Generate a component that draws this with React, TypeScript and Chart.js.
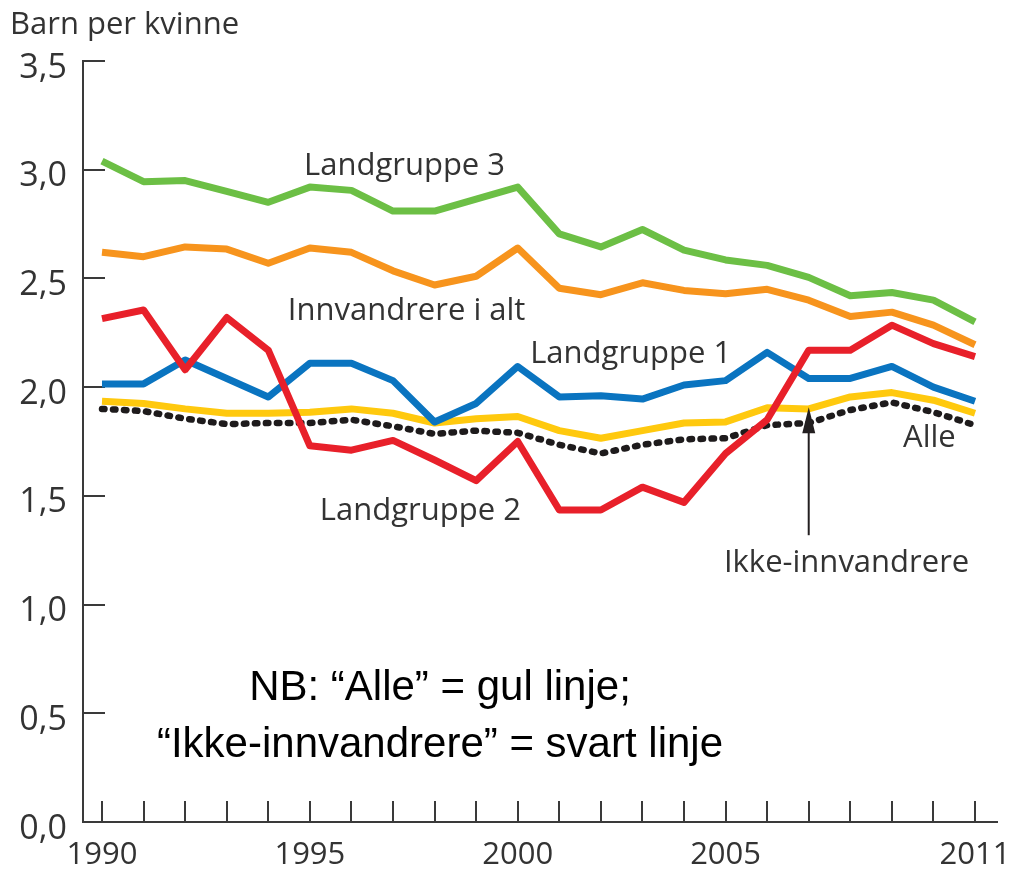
import React, { useEffect, useRef } from "react";
import { Chart, registerables } from "chart.js";

Chart.register(...registerables);

// ---- Data ----
const years = [
  1990, 1991, 1992, 1993, 1994, 1995, 1996, 1997, 1998, 1999, 2000,
  2001, 2002, 2003, 2004, 2005, 2006, 2007, 2008, 2009, 2010, 2011,
];
const xLabelYears = [1990, 1995, 2000, 2005, 2011];
const yTicks = [0, 0.5, 1, 1.5, 2, 2.5, 3, 3.5];

const landgruppe3 = [3.04, 2.945, 2.95, 2.9, 2.85, 2.92, 2.905, 2.81, 2.81, 2.865, 2.92, 2.705, 2.645, 2.725, 2.63, 2.585, 2.56, 2.505, 2.42, 2.435, 2.4, 2.3];
const innvandrereIAlt = [2.62, 2.6, 2.645, 2.635, 2.57, 2.64, 2.62, 2.535, 2.47, 2.51, 2.64, 2.455, 2.425, 2.48, 2.445, 2.43, 2.45, 2.4, 2.325, 2.345, 2.285, 2.195];
const landgruppe2 = [2.315, 2.355, 2.08, 2.32, 2.17, 1.73, 1.71, 1.755, 1.665, 1.57, 1.75, 1.435, 1.435, 1.54, 1.47, 1.695, 1.85, 2.17, 2.17, 2.285, 2.2, 2.14];
const landgruppe1 = [2.015, 2.015, 2.125, 2.04, 1.955, 2.11, 2.11, 2.03, 1.84, 1.925, 2.095, 1.955, 1.96, 1.945, 2.01, 2.03, 2.16, 2.04, 2.04, 2.095, 2.0, 1.935];
const alle = [1.935, 1.925, 1.9, 1.88, 1.88, 1.885, 1.9, 1.88, 1.835, 1.855, 1.865, 1.8, 1.765, 1.8, 1.835, 1.84, 1.905, 1.9, 1.955, 1.975, 1.94, 1.88];
const ikkeInnvandrere = [1.9, 1.89, 1.855, 1.83, 1.835, 1.835, 1.85, 1.82, 1.785, 1.8, 1.79, 1.735, 1.695, 1.735, 1.76, 1.765, 1.825, 1.835, 1.895, 1.93, 1.885, 1.825];

// Annotation anchors in data coordinates (year, value): left/baseline of text
const seriesLabels = [
  { text: "Landgruppe 3", year: 1994.86, value: 2.974 },
  { text: "Innvandrere i alt", year: 1994.47, value: 2.308 },
  { text: "Landgruppe 1", year: 2000.3, value: 2.11 },
  { text: "Landgruppe 2", year: 1995.24, value: 1.388 },
  { text: "Ikke-innvandrere", year: 2004.96, value: 1.149 },
  { text: "Alle", year: 2009.27, value: 1.724 },
];
const noteLines = [
  { text: "NB: \u201CAlle\u201D = gul linje;", year: 1998.13, value: 0.56 },
  { text: "\u201CIkke-innvandrere\u201D = svart linje", year: 1998.13, value: 0.298 },
];
const arrow = { year: 2007, from: 1.319, to: 1.908 };

const FONT = '"Open Sans", "Noto Sans", sans-serif';
const TEXT = "#333333";
const AXIS = "#3a3a3a";

const decorPlugin = {
  id: "decor",
  beforeDatasetsDraw(chart: any) {
    const { ctx, chartArea, scales } = chart;
    const x = scales.x;
    const y = scales.y;
    ctx.save();
    ctx.strokeStyle = AXIS;
    ctx.lineWidth = 2;
    ctx.beginPath();
    for (const yr of years) {
      const px = Math.round(x.getPixelForValue(yr));
      ctx.moveTo(px, chartArea.bottom);
      ctx.lineTo(px, chartArea.bottom - 21);
    }
    for (const v of yTicks) {
      const py = Math.round(y.getPixelForValue(v));
      ctx.moveTo(chartArea.left, py);
      ctx.lineTo(chartArea.left + 22, py);
    }
    ctx.stroke();
    // y tick labels (from the y scale)
    ctx.fillStyle = TEXT;
    ctx.font = `34px ${FONT}`;
    ctx.textAlign = "right";
    ctx.textBaseline = "alphabetic";
    for (const v of yTicks) {
      const py = y.getPixelForValue(v);
      ctx.fillText(v.toFixed(1).replace(".", ","), chartArea.left - 16, py + 16.5);
    }
    ctx.restore();
  },
  afterDatasetsDraw(chart: any) {
    const { ctx, scales } = chart;
    const x = scales.x;
    const y = scales.y;
    ctx.save();
    ctx.fillStyle = TEXT;
    ctx.font = `31px ${FONT}`;
    ctx.textAlign = "left";
    ctx.textBaseline = "alphabetic";
    for (const l of seriesLabels) {
      ctx.fillText(l.text, x.getPixelForValue(l.year), y.getPixelForValue(l.value));
    }
    ctx.fillStyle = "#000000";
    ctx.font = `42px "Liberation Sans", Arial, sans-serif`;
    ctx.textAlign = "center";
    for (const l of noteLines) {
      ctx.fillText(l.text, x.getPixelForValue(l.year), y.getPixelForValue(l.value));
    }
    // arrow
    const ax = x.getPixelForValue(arrow.year);
    const y0 = y.getPixelForValue(arrow.from);
    const y1 = y.getPixelForValue(arrow.to);
    ctx.strokeStyle = "#231f20";
    ctx.fillStyle = "#231f20";
    ctx.lineWidth = 2;
    ctx.beginPath();
    ctx.moveTo(ax, y0);
    ctx.lineTo(ax, y1 + 20);
    ctx.stroke();
    ctx.beginPath();
    ctx.moveTo(ax, y1);
    ctx.lineTo(ax - 6.5, y1 + 26);
    ctx.lineTo(ax + 6.5, y1 + 26);
    ctx.closePath();
    ctx.fill();
    ctx.restore();
  },
};

function line(label: string, data: number[], color: string, order: number, extra: any = {}) {
  return {
    label,
    data: years.map((yr, i) => ({ x: yr, y: data[i] })),
    borderColor: color,
    backgroundColor: color,
    borderWidth: 7,
    pointRadius: 0,
    tension: 0,
    borderJoinStyle: "round",
    borderCapStyle: "butt",
    order,
    ...extra,
  };
}

export default function App() {
  const ref = useRef<HTMLCanvasElement | null>(null);
  useEffect(() => {
    document.body.style.margin = "0";
    const canvas = ref.current!;
    const chart = new Chart(canvas, {
      type: "line",
      data: {
        datasets: [
          line("Landgruppe 2", landgruppe2, "#e8202a", 0),
          line("Landgruppe 1", landgruppe1, "#0a74c0", 1),
          line("Ikke-innvandrere", ikkeInnvandrere, "#1e1b1c", 2, {
            borderWidth: 6.5,
            borderDash: [2.5, 8.5],
            borderCapStyle: "round",
          }),
          line("Alle", alle, "#ffc90e", 3),
          line("Innvandrere i alt", innvandrereIAlt, "#f7941d", 4),
          line("Landgruppe 3", landgruppe3, "#6cbf45", 5),
        ] as any,
      },
      options: {
        responsive: false,
        animation: false,
        devicePixelRatio: 1,
        layout: { padding: { left: 10, right: 12, top: 0, bottom: 0 } },
        plugins: {
          legend: { display: false },
          tooltip: { enabled: false },
          title: {
            display: true,
            text: "Barn per kvinne",
            align: "start",
            color: TEXT,
            font: { family: FONT, size: 31, weight: "normal", lineHeight: 1.2 },
            padding: { top: 7, bottom: 16.8 },
          },
        },
        scales: {
          x: {
            type: "linear",
            min: 1989.543,
            max: 2011.529,
            grid: { display: true, drawOnChartArea: false, drawTicks: false },
            border: { display: true, color: AXIS, width: 2 },
            afterBuildTicks: (s: any) => {
              s.ticks = years.map((v) => ({ value: v }));
            },
            afterFit: (s: any) => {
              s.height = 49;
              s.paddingLeft = 0;
              s.paddingRight = 0;
            },
            ticks: {
              autoSkip: false,
              maxRotation: 0,
              minRotation: 0,
              padding: 15,
              color: TEXT,
              font: { family: FONT, size: 31 },
              callback: (v: any) => (xLabelYears.includes(Number(v)) ? String(v) : ""),
            },
          },
          y: {
            type: "linear",
            min: 0,
            max: 3.5,
            grid: { display: true, drawOnChartArea: false, drawTicks: false },
            border: { display: true, color: AXIS, width: 2 },
            afterBuildTicks: (s: any) => {
              s.ticks = yTicks.map((v) => ({ value: v }));
            },
            afterFit: (s: any) => {
              s.width = 73;
              s.paddingTop = 0;
              s.paddingBottom = 0;
            },
            ticks: { display: false },
          },
        },
      } as any,
      plugins: [decorPlugin],
    });
    return () => chart.destroy();
  }, []);
  return (
    <div style={{ width: 1009, height: 871, background: "#fff" }}>
      <canvas ref={ref} width={1009} height={871} style={{ display: "block" }} />
    </div>
  );
}
